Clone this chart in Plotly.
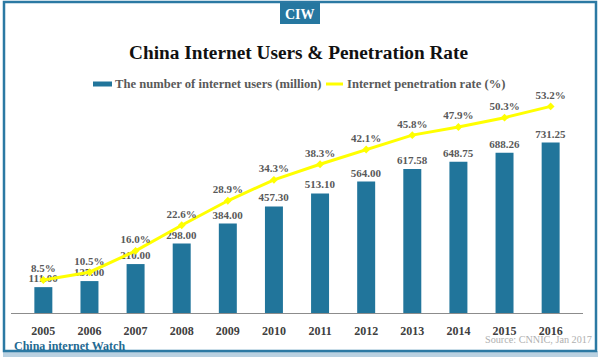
import plotly.graph_objects as go

years = ["2005", "2006", "2007", "2008", "2009", "2010", "2011", "2012", "2013", "2014", "2015", "2016"]
users_million = [111.00, 137.00, 210.00, 298.00, 384.00, 457.30, 513.10, 564.00, 617.58, 648.75, 688.26, 731.25]
penetration_pct = [8.5, 10.5, 16.0, 22.6, 28.9, 34.3, 38.3, 42.1, 45.8, 47.9, 50.3, 53.2]

title_text = "China Internet Users & Penetration Rate"
bar_name = "The number of internet users (million)"
line_name = "Internet penetration rate (%)"
source_text = "Source: CNNIC, Jan 2017"
brand_text = "China internet Watch"

BAR_COLOR = "#21759b"
LABEL_GREY = "#595959"
FONT = "Liberation Serif"

# plot area in pixels
L, R, T, B = 11, 583, 80, 313
W, H = R - L, B - T

def px(x):
    return (x - L) / W

def py(y):
    return (B - y) / H

fig = go.Figure()
fig.add_trace(go.Bar(
    x=years, y=users_million, name=bar_name,
    marker=dict(color=BAR_COLOR, line=dict(width=0)),
    texttemplate="%{y:.2f}", textposition="outside", constraintext="none",
    textfont=dict(size=11, color=LABEL_GREY, family=FONT, weight="bold"),
    cliponaxis=False, showlegend=False,
))
fig.add_trace(go.Scatter(
    x=years, y=penetration_pct, name=line_name, yaxis="y2",
    mode="lines+markers+text",
    line=dict(color="#ffff00", width=3),
    marker=dict(color="#ffff00", size=6, symbol="diamond"),
    texttemplate="%{y:.1f}%", textposition="top center",
    textfont=dict(size=11, color=LABEL_GREY, family=FONT, weight="bold"),
    cliponaxis=False, showlegend=False,
))

shapes = [
    # bottom shadow
    dict(type="rect", xref="paper", yref="paper", x0=px(3), x1=px(598), y0=py(357), y1=py(351),
         fillcolor="#b9d1e1", line=dict(width=0), layer="below"),
    # frame
    dict(type="rect", xref="paper", yref="paper", x0=px(4), x1=px(596), y0=py(351), y1=py(2),
         line=dict(color="#2b79a3", width=2.5), fillcolor="rgba(0,0,0,0)", layer="below"),
    # badge
    dict(type="rect", xref="paper", yref="paper", x0=px(280), x1=px(320), y0=py(24), y1=py(3),
         fillcolor="#2677a0", line=dict(width=0), layer="above"),
    # legend swatches
    dict(type="rect", xref="paper", yref="paper", x0=px(93), x1=px(112), y0=py(86.5), y1=py(81.5),
         fillcolor=BAR_COLOR, line=dict(width=0)),
    dict(type="line", xref="paper", yref="paper", x0=px(326), x1=px(343), y0=py(84), y1=py(84),
         line=dict(color="#ffff00", width=3)),
]

annotations = [
    dict(text="<b>CIW</b>", x=px(300), y=py(14), xref="paper", yref="paper", showarrow=False,
         font=dict(family=FONT, size=14, color="white"), xanchor="center", yanchor="middle"),
    dict(text="<b>" + title_text + "</b>", x=px(298), y=py(52), xref="paper", yref="paper", showarrow=False,
         font=dict(family=FONT, size=19.3, color="#111111"), xanchor="center", yanchor="middle"),
    dict(text="<b>" + bar_name + "</b>", x=px(113), y=py(84), xref="paper", yref="paper", showarrow=False,
         font=dict(family=FONT, size=12.6, color=LABEL_GREY), xanchor="left", yanchor="middle"),
    dict(text="<b>" + line_name + "</b>", x=px(345), y=py(84), xref="paper", yref="paper", showarrow=False,
         font=dict(family=FONT, size=12.6, color=LABEL_GREY), xanchor="left", yanchor="middle"),
    dict(text="<b>" + brand_text + "</b>", x=px(12), y=py(346), xref="paper", yref="paper", showarrow=False,
         font=dict(family=FONT, size=12, color="#1f6a92"), xanchor="left", yanchor="middle"),
    dict(text=source_text, x=px(594), y=py(339), xref="paper", yref="paper", showarrow=False,
         font=dict(family=FONT, size=10.2, color="#b0b0b0"), xanchor="right", yanchor="middle"),
]

fig.update_layout(
    width=600, height=359,
    margin=dict(l=L, r=600 - R, t=T, b=359 - B, pad=0),
    paper_bgcolor="white", plot_bgcolor="white",
    font=dict(family=FONT),
    bargap=0.61,
    showlegend=False,
    shapes=shapes,
    annotations=annotations,
    xaxis=dict(
        type="category", showgrid=False, zeroline=False,
        showline=True, linecolor="#8c8c8c", linewidth=1,
        ticks="", ticklabelstandoff=7,
        tickfont=dict(family=FONT, size=12, color="#404040", weight="bold"),
    ),
    yaxis=dict(range=[0, 1000], visible=False, showgrid=False, zeroline=False),
    yaxis2=dict(range=[0, 60], overlaying="y", visible=False, showgrid=False, zeroline=False),
)

fig.write_html(
    "out.html",
    config={"displayModeBar": False},
    post_script="document.body.style.margin='0';document.body.style.overflow='hidden';",
)
